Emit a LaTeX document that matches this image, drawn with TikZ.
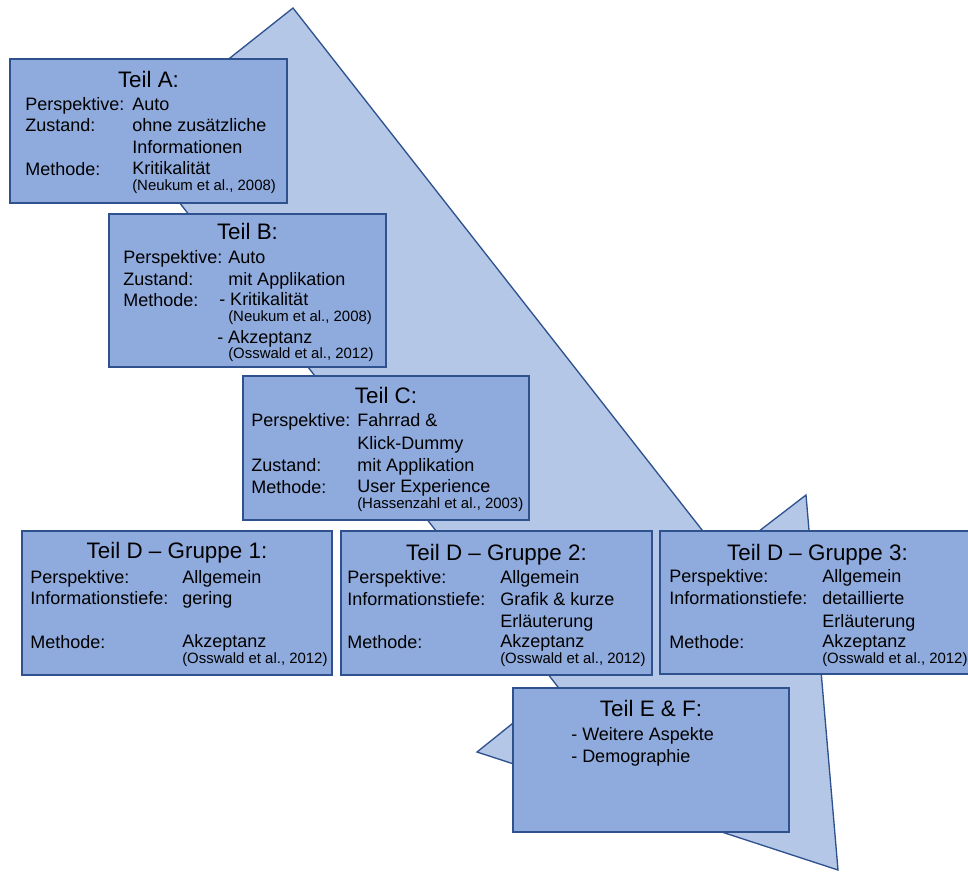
\documentclass[tikz,border=0pt]{standalone}
\usepackage{fontspec}
\setmainfont{Liberation Sans}
\definecolor{arrowfill}{HTML}{B4C7E7}
\definecolor{boxfill}{HTML}{8FAADC}
\definecolor{edgeblue}{HTML}{2F528F}
\tikzset{
  x=0.75pt, y=-0.75pt,
  bigarrow/.style={draw=edgeblue, fill=arrowfill, line width=1pt, line join=miter},
  panel/.style={draw=edgeblue, fill=boxfill, line width=1pt},
  title/.style={anchor=base, inner sep=0pt, font=\fontsize{16.8}{19}\selectfont},
  lbl/.style={anchor=base west, inner sep=0pt, font=\fontsize{13.5}{16}\selectfont},
  cite/.style={anchor=base west, inner sep=0pt, font=\fontsize{11.2}{13}\selectfont},
}
\begin{document}
\begin{tikzpicture}
\useasboundingbox (0,0) rectangle (968,872);
\clip (0,0) rectangle (968,872);

% large block arrow running from top left to bottom right
\draw[bigarrow] (293,8) -- (129,138) -- (558,687) -- (477,752) -- (838,870)
  -- (806,495) -- (724,558) -- cycle;

% Teil A
\draw[panel] (10,59) rectangle (287,203);
\node[title] (aT) at (148.5,87) {Teil A:};
\node[lbl] (aP) at (25,110) {Perspektive:};
\node[lbl] (aPv) at (132,110) {Auto};
\node[lbl] (aZ) at (25,131) {Zustand:};
\node[lbl] (aZv) at (132,131) {ohne zusätzliche};
\node[lbl] (aZw) at (132,153) {Informationen};
\node[lbl] (aM) at (25,175) {Methode:};
\node[lbl] (aMv) at (132,174) {Kritikalität};
\node[cite] (aR) at (132,190) {(Neukum et al., 2008)};

% Teil B
\draw[panel] (109,214) rectangle (386,367);
\node[title] (bT) at (247.5,239) {Teil B:};
\node[lbl] (bP) at (123,263) {Perspektive:};
\node[lbl] (bPv) at (228,263) {Auto};
\node[lbl] (bZ) at (123,285) {Zustand:};
\node[lbl] (bZv) at (228,285) {mit Applikation};
\node[lbl] (bM) at (123,306) {Methode:};
\node[lbl] (bMv) at (219,305) {- Kritikalität};
\node[cite] (bR) at (228,321) {(Neukum et al., 2008)};
\node[lbl] (bMw) at (217,343) {- Akzeptanz};
\node[cite] (bS) at (228,358) {(Osswald et al., 2012)};

% Teil C
\draw[panel] (243,376) rectangle (529,520);
\node[title] (cT) at (386,403) {Teil C:};
\node[lbl] (cP) at (251,426) {Perspektive:};
\node[lbl] (cPv) at (357,426) {Fahrrad \&};
\node[lbl] (cPw) at (357,449) {Klick-Dummy};
\node[lbl] (cZ) at (251,471) {Zustand:};
\node[lbl] (cZv) at (357,471) {mit Applikation};
\node[lbl] (cM) at (251,493) {Methode:};
\node[lbl] (cMv) at (357,492) {User Experience};
\node[cite] (cR) at (357,508) {(Hassenzahl et al., 2003)};

% Teil D, Gruppe 1
\draw[panel] (22,531) rectangle (332,675);
\node[title] (d1T) at (177,558) {Teil D – Gruppe 1:};
\node[lbl] (d1P) at (30,583) {Perspektive:};
\node[lbl] (d1Pv) at (182,583) {Allgemein};
\node[lbl] (d1I) at (30,604) {Informationstiefe:};
\node[lbl] (d1Iv) at (182,604) {gering};
\node[lbl] (d1M) at (30,648) {Methode:};
\node[lbl] (d1Mv) at (182,647) {Akzeptanz};
\node[cite] (d1R) at (182,663) {(Osswald et al., 2012)};

% Teil D, Gruppe 2
\draw[panel] (341,531) rectangle (652,675);
\node[title] (d2T) at (496.5,560) {Teil D – Gruppe 2:};
\node[lbl] (d2P) at (347,583) {Perspektive:};
\node[lbl] (d2Pv) at (500,583) {Allgemein};
\node[lbl] (d2I) at (347,605) {Informationstiefe:};
\node[lbl] (d2Iv) at (500,605) {Grafik \& kurze};
\node[lbl] (d2Iw) at (500,627) {Erläuterung};
\node[lbl] (d2M) at (347,648) {Methode:};
\node[lbl] (d2Mv) at (500,647) {Akzeptanz};
\node[cite] (d2R) at (500,663) {(Osswald et al., 2012)};

% Teil D, Gruppe 3
\draw[panel] (660,531) rectangle (975,674);
\node[title] (d3T) at (817.5,560) {Teil D – Gruppe 3:};
\node[lbl] (d3P) at (669,582) {Perspektive:};
\node[lbl] (d3Pv) at (822,582) {Allgemein};
\node[lbl] (d3I) at (669,604) {Informationstiefe:};
\node[lbl] (d3Iv) at (822,604) {detaillierte};
\node[lbl] (d3Iw) at (822,627) {Erläuterung};
\node[lbl] (d3M) at (669,648) {Methode:};
\node[lbl] (d3Mv) at (822,647) {Akzeptanz};
\node[cite] (d3R) at (822,663) {(Osswald et al., 2012)};

% Teil E & F
\draw[panel] (513,688) rectangle (789,832);
\node[title] (eT) at (651,716) {Teil E \& F:};
\node[lbl] (eA) at (571,740) {- Weitere Aspekte};
\node[lbl] (eB) at (571,762) {- Demographie};
\end{tikzpicture}
\end{document}
